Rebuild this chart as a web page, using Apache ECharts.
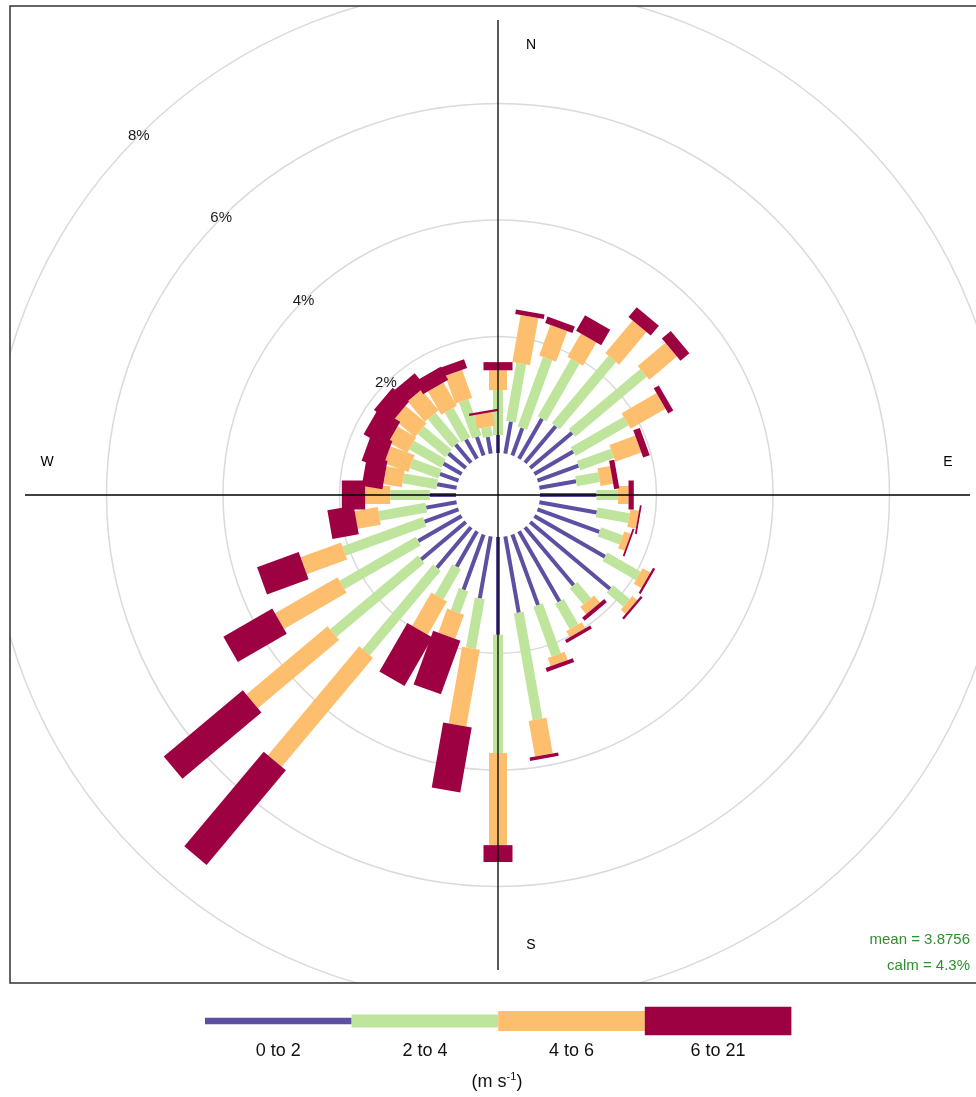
<!DOCTYPE html>
<html>
<head>
<meta charset="utf-8">
<title>Wind rose</title>
<script src="https://cdn.jsdelivr.net/npm/echarts@6/dist/echarts.min.js"></script>
<style>
html,body{margin:0;padding:0;background:#fff;}
#chart{width:976px;height:1097px;}
</style>
</head>
<body>
<div id="chart"></div>
<script>
// wind direction bins, degrees clockwise from north
const directions = [10,20,30,40,50,60,70,80,90,100,110,120,130,140,150,160,170,180,
                    190,200,210,220,230,240,250,260,270,280,290,300,310,320,330,340,350,360];
// frequency (%) of each wind speed band in every direction
const ws0to2  = [0.56,0.50,0.79,0.82,0.94,0.77,0.75,0.64,0.97,1.00,1.13,1.40,1.79,1.30,1.39,1.29,1.33,1.68,
                 1.08,1.01,0.70,0.91,1.00,0.86,0.62,0.53,0.45,0.34,0.34,0.36,0.39,0.41,0.38,0.34,0.29,0.31];
const ws2to4  = [1.01,1.27,1.14,1.51,1.60,1.05,0.62,0.40,0.37,0.56,0.40,0.66,0.37,0.36,0.50,0.91,1.86,2.03,
                 0.87,0.40,0.60,1.89,1.97,1.51,1.47,0.82,0.68,0.59,0.52,0.63,0.62,0.64,0.58,0.66,0.17,0.77];
const ws4to6  = [0.82,0.56,0.46,0.73,0.62,0.69,0.47,0.22,0.18,0.15,0.12,0.15,0.11,0.16,0.12,0.15,0.62,1.58,
                 1.34,0.44,0.66,2.44,1.82,1.24,0.74,0.40,0.43,0.32,0.44,0.37,0.47,0.46,0.46,0.51,0.24,0.34];
const ws6to21 = [0.08,0.12,0.31,0.22,0.20,0.10,0.12,0.09,0.09,0.03,0.03,0.04,0.04,0.07,0.06,0.07,0.06,0.29,
                 1.13,0.98,0.96,2.12,1.77,0.97,0.76,0.46,0.40,0.36,0.38,0.44,0.37,0.29,0.26,0.16,0.04,0.14];
const bandNames = ['0 to 2', '2 to 4', '4 to 6', '6 to 21'];
const bandColors = ['#5e4fa2', '#bfe49c', '#fdbe6e', '#9e0142'];
const circleTicks = [2, 4, 6, 8];
const circleLabels = ['2%', '4%', '6%', '8%'];
const compassNames = ['N', 'E', 'S', 'W'];
const meanSpeed = 3.8756;
const calmPercent = 4.3;

const FONT = '"Liberation Sans", Arial, sans-serif';
const paddleWidths = [4, 10, 18, 29];   // px, openair style paddles get wider with speed
const legendHeights = [6.5, 13, 20, 28.5];

function paddle(width, color) {
    return function (params, api) {
        const r0 = api.value(0), r1 = api.value(1), dir = api.value(2);
        if (!(r1 > r0)) return;
        const c = api.coord([0, dir]);
        const far = api.coord([8, dir]);
        const a = api.coord([r0, dir]);
        const b = api.coord([r1, dir]);
        const len = Math.hypot(far[0] - c[0], far[1] - c[1]);
        const nx = -(far[1] - c[1]) / len * width / 2;
        const ny = (far[0] - c[0]) / len * width / 2;
        return {
            type: 'polygon',
            shape: {points: [[a[0] + nx, a[1] + ny], [b[0] + nx, b[1] + ny],
                             [b[0] - nx, b[1] - ny], [a[0] - nx, a[1] - ny]]},
            style: {fill: color}
        };
    };
}

const bands = [ws0to2, ws2to4, ws4to6, ws6to21];
const running = directions.map(() => 0);
const series = bands.map((vals, k) => {
    const data = directions.map((d, i) => {
        const start = running[i];
        running[i] += vals[i];
        return [start, running[i], d];
    });
    return {
        type: 'custom',
        name: bandNames[k],
        coordinateSystem: 'polar',
        encode: {radius: [0, 1], angle: 2},
        data: data,
        z: 2,
        silent: true,
        renderItem: paddle(paddleWidths[k], bandColors[k])
    };
});

// percentage labels on the rings, along the NW direction
series.push({
    type: 'custom',
    coordinateSystem: 'polar',
    encode: {radius: 0, angle: 1},
    data: circleTicks.map(v => [v, 315]),
    z: 5,
    silent: true,
    renderItem: function (params, api) {
        const p = api.coord([api.value(0), api.value(1)]);
        return {
            type: 'text', x: p[0], y: p[1],
            style: {text: circleLabels[params.dataIndex], align: 'center', verticalAlign: 'middle',
                    fill: '#1a1a1a', font: '15px ' + FONT}
        };
    }
});

const graphics = [];
// mask everything outside the panel box
[[0, 0, 976, 6], [0, 0, 10, 1097], [0, 983, 976, 114]].forEach(r => {
    graphics.push({type: 'rect', z: 50, silent: true,
        shape: {x: r[0], y: r[1], width: r[2], height: r[3]}, style: {fill: '#fff'}});
});
graphics.push({type: 'rect', z: 60, silent: true,
    shape: {x: 10, y: 6, width: 990, height: 977},
    style: {fill: 'none', stroke: '#333', lineWidth: 1.5}});
// compass cross
graphics.push({type: 'line', z: 55, silent: true, shape: {x1: 498, y1: 20, x2: 498, y2: 970},
    style: {stroke: '#000', lineWidth: 1.3}});
graphics.push({type: 'line', z: 55, silent: true, shape: {x1: 25, y1: 495, x2: 970, y2: 495},
    style: {stroke: '#000', lineWidth: 1.3}});
const compassPos = [[531, 45], [948, 462], [531, 945], [47, 462]];
compassNames.forEach((t, i) => {
    graphics.push({type: 'text', z: 55, x: compassPos[i][0], y: compassPos[i][1],
        style: {text: t, align: 'center', verticalAlign: 'middle', fill: '#000', font: '14px ' + FONT}});
});
graphics.push({type: 'text', z: 55, x: 970, y: 940,
    style: {text: 'mean = ' + meanSpeed, align: 'right', verticalAlign: 'middle',
            fill: '#2f8f2f', font: '15px ' + FONT}});
graphics.push({type: 'text', z: 55, x: 970, y: 966,
    style: {text: 'calm = ' + calmPercent + '%', align: 'right', verticalAlign: 'middle',
            fill: '#2f8f2f', font: '15px ' + FONT}});
// legend key
bandNames.forEach((name, k) => {
    const x0 = 205 + k * 146.6;
    graphics.push({type: 'rect', z: 60, silent: true,
        shape: {x: x0, y: 1021 - legendHeights[k] / 2, width: 146.6, height: legendHeights[k]},
        style: {fill: bandColors[k]}});
    graphics.push({type: 'text', z: 60, x: x0 + 73.3, y: 1051,
        style: {text: name, align: 'center', verticalAlign: 'middle', fill: '#111', font: '18px ' + FONT}});
});
graphics.push({type: 'text', z: 60, x: 497, y: 1082,
    style: {text: '(m s{sup|-1})', align: 'center', verticalAlign: 'middle', fill: '#111',
            font: '18px ' + FONT,
            rich: {sup: {fontSize: 11, fontFamily: FONT, verticalAlign: 'top', padding: [0, 0, 10, 0]}}}});

const chart = echarts.init(document.getElementById('chart'));
chart.setOption({
    animation: false,
    backgroundColor: '#fff',
    polar: {center: [498, 495], radius: [42, 508]},
    angleAxis: {
        type: 'value', min: 0, max: 360, startAngle: 90, clockwise: true,
        axisLine: {show: false}, axisTick: {show: false}, axisLabel: {show: false}, splitLine: {show: false}
    },
    radiusAxis: {
        type: 'value', min: 0, max: 8, interval: 2,
        axisLine: {show: false}, axisTick: {show: false}, axisLabel: {show: false},
        splitLine: {show: true, lineStyle: {color: ['rgba(0,0,0,0)', '#dadada', '#dadada', '#dadada', '#dadada'], width: 1.5}}
    },
    graphic: {elements: graphics},
    series: series
});
window.addEventListener('resize', () => chart.resize());
</script>
</body>
</html>
